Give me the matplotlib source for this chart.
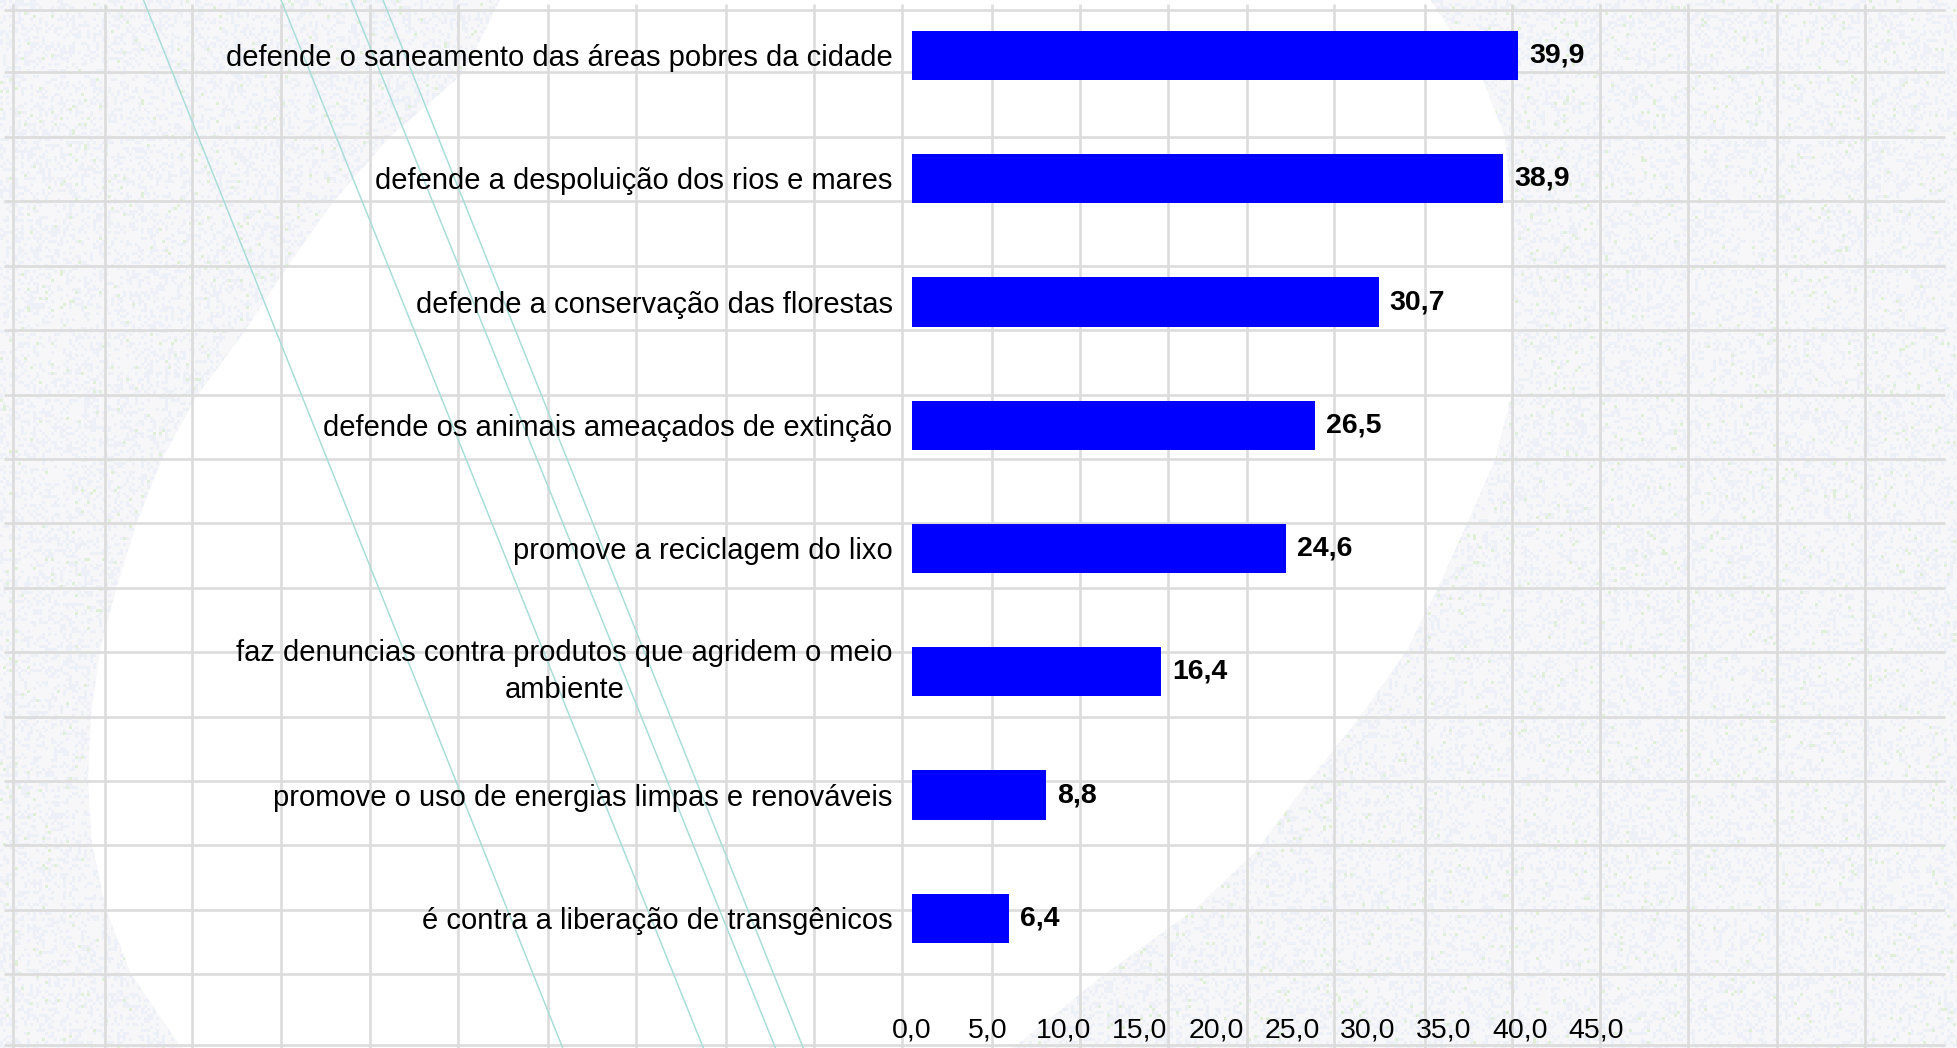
import numpy as np
import matplotlib
matplotlib.use("Agg")
import matplotlib.pyplot as plt
from matplotlib.patches import Polygon

# ---------------- data ----------------
categories = [
    "defende o saneamento das áreas pobres da cidade",
    "defende a despoluição dos rios e mares",
    "defende a conservação das florestas",
    "defende os animais ameaçados de extinção",
    "promove a reciclagem do lixo",
    "faz denuncias contra produtos que agridem o meio\nambiente",
    "promove o uso de energias limpas e renováveis",
    "é contra a liberação de transgênicos",
]
values = [39.9, 38.9, 30.7, 26.5, 24.6, 16.4, 8.8, 6.4]
xticks = [0, 5, 10, 15, 20, 25, 30, 35, 40, 45]
xtick_labels = ["0,0", "5,0", "10,0", "15,0", "20,0", "25,0", "30,0", "35,0", "40,0", "45,0"]

plt.rcParams['font.family'] = ['Liberation Sans', 'DejaVu Sans']

W, H = 1957, 1048
fig = plt.figure(figsize=(W / 100, H / 100), dpi=100)

# ---------------- decorative background ----------------
bg = fig.add_axes([0, 0, 1, 1])
bg.set_xlim(0, W)
bg.set_ylim(H, 0)
bg.axis('off')

blk = 3
hb, wb = H // blk + 1, W // blk + 1
jj, ii = np.meshgrid(np.arange(wb), np.arange(hb))
hsh = np.modf(np.abs(np.sin(ii * 12.9898 + jj * 78.233) * 43758.5453))[0]
tex = np.empty((hb, wb, 3))
tex[:] = (0.972, 0.972, 0.982)
tex[hsh < 0.30] = (0.935, 0.945, 0.975)
tex[hsh > 0.98] = (0.88, 0.94, 0.85)
tex = np.repeat(np.repeat(tex, blk, axis=0), blk, axis=1)[:H, :W]
bg.imshow(tex, extent=(0, W, H, 0), aspect='auto', interpolation='nearest', zorder=0)

shape = [
    (510, -30), (1420, -30), (1430, 0), (1480, 72), (1505, 137), (1511, 202),
    (1513, 267), (1514, 332), (1511, 397), (1495, 460), (1470, 517), (1440, 583),
    (1407, 650), (1360, 717), (1307, 783), (1257, 850), (1195, 909), (1105, 974),
    (1014, 1047), (900, 1100), (600, 1130), (300, 1100), (181, 1047), (131, 974),
    (106, 909), (92, 844), (88, 780), (91, 715), (100, 651), (117, 586), (137, 522),
    (162, 459), (197, 396), (245, 331), (287, 267), (333, 202), (390, 137),
    (465, 72), (500, 0),
]
bg.add_patch(Polygon(shape, closed=True, facecolor='white', edgecolor='none', zorder=1))

grid_x = [13, 105, 192, 281, 370, 458, 548, 636, 726, 814, 902, 992, 1080, 1168,
          1247, 1334, 1425, 1512, 1600, 1688, 1777, 1865]
grid_y = [10, 72, 137, 201, 266, 330, 395, 459, 523, 588, 652, 717, 781, 845, 910, 974, 1045]
for gx in grid_x:
    bg.plot([gx, gx], [4, H], color='#DCDCDC', lw=1.9, zorder=2, solid_capstyle='butt')
for gy in grid_y:
    bg.plot([4, 1945], [gy, gy], color='#DCDCDC', lw=1.9, zorder=2, solid_capstyle='butt')

for x0, slope in [(143.5, 0.400), (281, 0.403), (351, 0.405), (383, 0.401)]:
    bg.plot([x0, x0 + slope * H], [0, H], color='#A9DDD8', lw=1.1, zorder=3)

# ---------------- chart ----------------
ax = fig.add_axes([912 / W, (H - 980) / H, (1596 - 912) / W, 980 / H])
ax.patch.set_alpha(0)
n = len(categories)
ypos = np.arange(n)[::-1]
ax.barh(ypos, values, height=0.4, color='#0000FF', zorder=3)
ax.set_xlim(0, 45)
ax.set_ylim(-0.5, 7.45)

ax.set_xticks(xticks)
ax.set_xticklabels(xtick_labels, fontsize=20.5)
ax.set_yticks([])
ax.tick_params(axis='x', length=0, pad=27)
for s in ax.spines.values():
    s.set_visible(False)

for y, cat in zip(ypos, categories):
    dy = 0 if "\n" in cat else -1.8
    ax.annotate(cat, xy=(0, y), xytext=(-14, dy), textcoords='offset points',
                ha='right', va='center', multialignment='center', linespacing=1.4,
                fontsize=21, color='black', annotation_clip=False)

for y, v in zip(ypos, values):
    ax.annotate(f"{v:.1f}".replace('.', ','), xy=(v, y), xytext=(8, 0),
                textcoords='offset points', va='center', ha='left',
                fontsize=20.5, fontweight='bold', color='black')

fig.savefig("out.png", dpi=100)
